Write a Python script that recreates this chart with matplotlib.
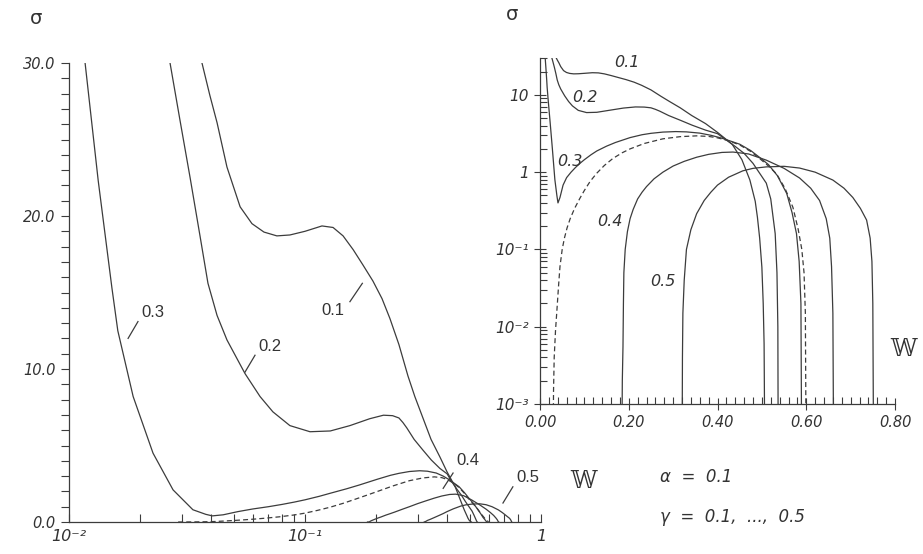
import numpy as np
import matplotlib.pyplot as plt
from matplotlib.ticker import FixedLocator, MultipleLocator, NullFormatter

# sigma(W) curves for gamma = 0.1 ... 0.5 (alpha = 0.1), plus the dashed curve
w_g1 = [0.0366, 0.0395, 0.0424, 0.0467, 0.0531, 0.0596, 0.067, 0.076, 0.0863, 0.1,
        0.118, 0.1315, 0.145, 0.16, 0.176, 0.194, 0.212, 0.229, 0.25, 0.273,
        0.292, 0.316, 0.342, 0.373, 0.40, 0.433, 0.455, 0.473, 0.485, 0.49,
        0.495, 0.50, 0.503, 0.505, 0.507]
s_g1 = [30, 27.9, 26.1, 23.2, 20.6, 19.5, 18.95, 18.7, 18.76, 19.0,
        19.35, 19.25, 18.7, 17.8, 16.8, 15.75, 14.6, 13.3, 11.6, 9.55,
        8.2, 6.8, 5.4, 4.25, 3.27, 2.3, 1.45, 0.79, 0.42, 0.26,
        0.14, 0.059, 0.02, 0.006, 0.0001]

w_g2 = [0.0268, 0.0295, 0.0326, 0.0359, 0.0388, 0.0424, 0.0467, 0.0557, 0.0645, 0.0731,
        0.0863, 0.105, 0.128, 0.155, 0.188, 0.215, 0.235, 0.25, 0.26, 0.27,
        0.29, 0.316, 0.343, 0.373, 0.40, 0.42, 0.44, 0.46, 0.48, 0.51,
        0.52, 0.53, 0.534, 0.536, 0.537]
s_g2 = [30, 26.3, 22.5, 18.7, 15.6, 13.5, 11.9, 9.7, 8.2, 7.2,
        6.3, 5.9, 5.95, 6.3, 6.75, 6.98, 6.95, 6.8, 6.5, 6.15,
        5.4, 4.7, 4.05, 3.5, 3.15, 2.6, 2.15, 1.75, 1.3, 0.72,
        0.45, 0.16, 0.05, 0.01, 0.0001]

w_g3 = [0.0117, 0.0133, 0.0152, 0.0161, 0.0187, 0.0227, 0.0276, 0.0335, 0.038, 0.0405,
        0.045, 0.052, 0.06, 0.07, 0.08, 0.09, 0.1, 0.115, 0.128, 0.15,
        0.17, 0.203, 0.23, 0.25, 0.277, 0.306, 0.33, 0.36, 0.385, 0.41,
        0.45, 0.475, 0.495, 0.515, 0.535, 0.556, 0.568, 0.578, 0.584, 0.588, 0.59]
s_g3 = [30, 22.3, 15.3, 12.5, 8.2, 4.5, 2.1, 0.8, 0.5, 0.4,
        0.47, 0.68, 0.85, 1.0, 1.15, 1.3, 1.45, 1.68, 1.88, 2.17,
        2.42, 2.8, 3.05, 3.18, 3.3, 3.35, 3.32, 3.2, 3.0, 2.75,
        2.3, 1.9, 1.55, 1.25, 0.9, 0.53, 0.3, 0.16, 0.07, 0.02, 0.0001]

w_dash = [0.029, 0.0305, 0.032, 0.035, 0.038, 0.042, 0.045, 0.05, 0.055, 0.061,
          0.068, 0.078, 0.09, 0.10, 0.113, 0.128, 0.145, 0.164, 0.185, 0.203,
          0.235, 0.277, 0.316, 0.353, 0.38, 0.40, 0.425, 0.45, 0.475, 0.495,
          0.515, 0.533, 0.552, 0.57, 0.582, 0.59, 0.595, 0.598, 0.60]
s_dash = [0.0001, 0.0015, 0.004, 0.009, 0.016, 0.035, 0.06, 0.1, 0.14, 0.19,
          0.25, 0.34, 0.46, 0.58, 0.76, 0.97, 1.22, 1.5, 1.78, 2.0,
          2.35, 2.7, 2.88, 2.95, 2.9, 2.78, 2.55, 2.25, 1.85, 1.5,
          1.2, 0.95, 0.62, 0.35, 0.18, 0.1, 0.05, 0.015, 0.0001]

w_g4 = [0.184, 0.1855, 0.187, 0.188, 0.189, 0.192, 0.197, 0.203, 0.21, 0.22,
        0.23, 0.24, 0.257, 0.277, 0.30, 0.325, 0.353, 0.38, 0.41, 0.435,
        0.47, 0.51, 0.55, 0.585, 0.61, 0.63, 0.645, 0.653, 0.657, 0.66, 0.662]
s_g4 = [0.0001, 0.002, 0.0055, 0.02, 0.05, 0.1, 0.17, 0.25, 0.33, 0.45,
        0.55, 0.65, 0.82, 1.0, 1.2, 1.38, 1.56, 1.7, 1.8, 1.82,
        1.72, 1.43, 1.12, 0.84, 0.62, 0.43, 0.25, 0.14, 0.06, 0.015, 0.0001]

w_g5 = [0.32, 0.321, 0.322, 0.325, 0.33, 0.34, 0.353, 0.37, 0.385, 0.40,
        0.425, 0.457, 0.48, 0.51, 0.55, 0.585, 0.62, 0.66, 0.685, 0.705,
        0.722, 0.736, 0.744, 0.748, 0.750, 0.752]
s_g5 = [0.0001, 0.004, 0.015, 0.04, 0.1, 0.18, 0.29, 0.43, 0.55, 0.68,
        0.86, 1.04, 1.12, 1.17, 1.19, 1.13, 1.0, 0.79, 0.62, 0.47,
        0.34, 0.24, 0.14, 0.07, 0.02, 0.0001]

solid = [(w_g1, s_g1), (w_g2, s_g2), (w_g3, s_g3), (w_g4, s_g4), (w_g5, s_g5)]

left_xticks = [0.01, 0.1, 1]
left_xlabels = ["10⁻²", "10⁻¹", "1"]
left_yticks = [0, 10, 20, 30]
left_ylabels = ["0.0", "10.0", "20.0", "30.0"]
right_xticks = [0.0, 0.2, 0.4, 0.6, 0.8]
right_xlabels = ["0.00", "0.20", "0.40", "0.60", "0.80"]
right_yticks = [1e-3, 1e-2, 1e-1, 1, 10]
right_ylabels = ["10⁻³", "10⁻²", "10⁻¹", "1", "10"]

ink = "#3c3c3c"
plt.rcParams["font.family"] = ["DejaVu Sans"]

fig = plt.figure(figsize=(9.23, 5.54), dpi=100)
axL = fig.add_axes([69 / 923, 32 / 554, 472 / 923, 459 / 554])
axR = fig.add_axes([540 / 923, 150 / 554, 355 / 923, 346 / 554])

for ax in (axL, axR):
    ax.patch.set_alpha(0)
    for side in ("top", "right"):
        ax.spines[side].set_visible(False)
    for side in ("left", "bottom"):
        ax.spines[side].set_color(ink)
        ax.spines[side].set_linewidth(0.9)
    ax.tick_params(which="both", colors=ink, width=0.8, labelcolor="#333333")

# left panel: linear sigma, log W
for w, s in solid:
    axL.plot(w, s, color=ink, lw=0.9)
axL.plot(w_dash, s_dash, color=ink, lw=0.9, ls=(0, (4, 2.5)))
axL.set_xscale("log")
axL.set_xlim(0.01, 1)
axL.set_ylim(0, 30)
axL.set_xticks(left_xticks)
axL.set_xticklabels(left_xlabels, style="italic", fontsize=11.5)
axL.xaxis.set_minor_locator(FixedLocator([k * d for d in (0.01, 0.1) for k in range(2, 10)]))
axL.xaxis.set_minor_formatter(NullFormatter())
axL.set_yticks(left_yticks)
axL.set_yticklabels(left_ylabels, style="italic", fontsize=10.5)
axL.yaxis.set_minor_locator(MultipleLocator(1))
axL.tick_params(axis="x", which="both", direction="in", length=6, pad=5)
axL.tick_params(axis="y", which="both", direction="out", length=6)

left_labels = [("0.1", (0.1315, 13.8), (0.155, 14.4), (0.175, 15.6)),
               ("0.2", (0.0711, 11.5), (0.0557, 9.8), (0.0614, 10.9)),
               ("0.3", (0.0227, 13.7), (0.0178, 12.0), (0.0196, 13.1)),
               ("0.4", (0.49, 4.0), (0.385, 2.2), (0.424, 3.2)),
               ("0.5", (0.88, 2.9), (0.69, 1.24), (0.76, 2.3))]
for txt, pos, p0, p1 in left_labels:
    axL.text(*pos, txt, ha="center", va="center", fontsize=12,
             family="Liberation Sans", color="#333333")
    axL.plot([p0[0], p1[0]], [p0[1], p1[1]], color=ink, lw=0.9)

# right panel: log sigma, linear W
for w, s in solid:
    axR.plot(w, s, color=ink, lw=0.9)
axR.plot(w_dash, s_dash, color=ink, lw=0.9, ls=(0, (4, 2.5)))
axR.set_yscale("log")
axR.set_xlim(0, 0.8)
axR.set_ylim(1e-3, 30)
axR.set_xticks(right_xticks)
axR.set_xticklabels(right_xlabels, style="italic", fontsize=10.5)
axR.xaxis.set_minor_locator(MultipleLocator(0.02))
axR.set_yticks(right_yticks)
axR.set_yticklabels(right_ylabels, style="italic", fontsize=11)
axR.yaxis.set_minor_locator(FixedLocator([k * d for d in (1e-3, 1e-2, 1e-1, 1, 10)
                                          for k in range(2, 10) if k * d <= 30]))
axR.yaxis.set_minor_formatter(NullFormatter())
axR.tick_params(which="major", direction="inout", length=9)
axR.tick_params(which="minor", direction="in", length=5)

right_labels = [("0.1", (0.196, 26.5)), ("0.2", (0.101, 9.3)), ("0.3", (0.068, 1.39)),
                ("0.4", (0.158, 0.232)), ("0.5", (0.277, 0.039))]
for txt, pos in right_labels:
    axR.text(*pos, txt, ha="center", va="center", fontsize=11.5,
             style="italic", color="#333333")

# axis names and parameter text
fig.text(36 / 923, 1 - 19 / 554, "σ", fontsize=14, ha="center", va="center", color="#333333")
fig.text(512 / 923, 1 - 14 / 554, "σ", fontsize=14, ha="center", va="center", color="#333333")
fig.text(903 / 923, 1 - 350 / 554, "𝕎", fontsize=17, ha="center", va="center",
         color="#333333", family="DejaVu Serif")
fig.text(584 / 923, 1 - 481 / 554, "𝕎", fontsize=17, ha="center", va="center",
         color="#333333", family="DejaVu Serif")
fig.text(660 / 923, 1 - 477 / 554, "α  =  0.1", fontsize=12, style="italic",
         ha="left", va="center", color="#333333")
fig.text(660 / 923, 1 - 517 / 554, "γ  =  0.1,  ...,  0.5", fontsize=12, style="italic",
         ha="left", va="center", color="#333333")

fig.savefig("out.png", dpi=100)
